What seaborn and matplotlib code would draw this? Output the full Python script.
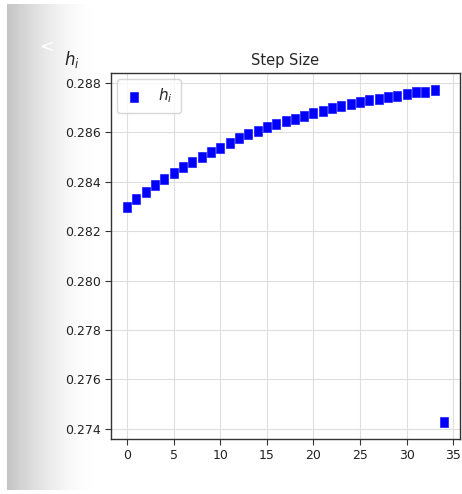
import numpy as np
import pandas as pd
import matplotlib
matplotlib.use("Agg")
import matplotlib.pyplot as plt
import seaborn as sns

# step index and step size h_i
steps = list(range(35))
h_values = [
    0.28299, 0.28329, 0.28357, 0.28387, 0.28411, 0.28434, 0.28459, 0.28479,
    0.28502, 0.28522, 0.28538, 0.28558, 0.28576, 0.28594, 0.28606, 0.28621,
    0.28633, 0.28645, 0.28656, 0.28668, 0.28679, 0.28688, 0.28699, 0.28706,
    0.28716, 0.28723, 0.28730, 0.28736, 0.28742, 0.28749, 0.28757, 0.28762,
    0.28766, 0.28774, 0.27425,
]
y_ticks = [0.274, 0.276, 0.278, 0.280, 0.282, 0.284, 0.286, 0.288]
x_ticks = [0, 5, 10, 15, 20, 25, 30, 35]

df = pd.DataFrame({"i": steps, "h": h_values})

sns.set_style("whitegrid", {"axes.edgecolor": "#333333", "grid.color": "#dedede",
                            "xtick.bottom": True, "ytick.left": True})
plt.rcParams["font.family"] = ["DejaVu Sans"]

W, H, DPI = 462, 494, 100
fig = plt.figure(figsize=(W / DPI, H / DPI), dpi=DPI)

# grey side panel fading into white on the left
bg = fig.add_axes([0, 0, 1, 1], zorder=-10)
bg.set_axis_off()
grad = np.ones((H, W))
x = np.arange(W)
t = np.clip((x - 7) / 85.0, 0.0, 1.0)
row = 0.77 + 0.23 * (1 - (1 - t) ** 1.6)
row[:7] = 1.0
grad[5:490, :] = row
bg.imshow(np.dstack([grad, grad, grad]), aspect="auto", extent=[0, W, H, 0])
bg.set_xlim(0, W)
bg.set_ylim(H, 0)
bg.text(47, 47, "<", color="white", fontsize=13, ha="center", va="center")

ax = fig.add_axes([111 / W, 1 - 439 / H, (460 - 111) / W, (439 - 73) / H])
ax.set_facecolor("white")
# slightly tall square markers
tall_square = [(-0.42, -0.5), (0.42, -0.5), (0.42, 0.5), (-0.42, 0.5), (-0.42, -0.5)]
sns.scatterplot(data=df, x="i", y="h", ax=ax, marker=tall_square, color="blue",
                s=46, edgecolor="blue", linewidth=0.4, label="$h_i$", zorder=3)

ax.set_xticks(x_ticks)
ax.set_yticks(y_ticks)
ax.set_yticklabels([f"{t:.3f}" for t in y_ticks])
ax.set_xlim(-1.7, 35.7)
ax.set_ylim(0.27358, 0.28841)
ax.tick_params(axis="both", labelsize=9, length=4, color="#333333", labelcolor="#222222")
ax.set_xlabel("")
ax.set_ylabel("")
ax.set_title("Step Size", fontsize=10.5, pad=6)
fig.text(72 / W, 1 - 60 / H, "$h_i$", fontsize=12, ha="center", va="center")

leg = ax.legend(loc="upper left", fontsize=11, markerscale=1.0, frameon=True,
                handlelength=1.2, handletextpad=1.0, borderpad=0.5,
                borderaxespad=0.4)
leg.get_frame().set_edgecolor("#cccccc")
for sp in ax.spines.values():
    sp.set_linewidth(1.0)

fig.savefig("out.png", dpi=DPI)
